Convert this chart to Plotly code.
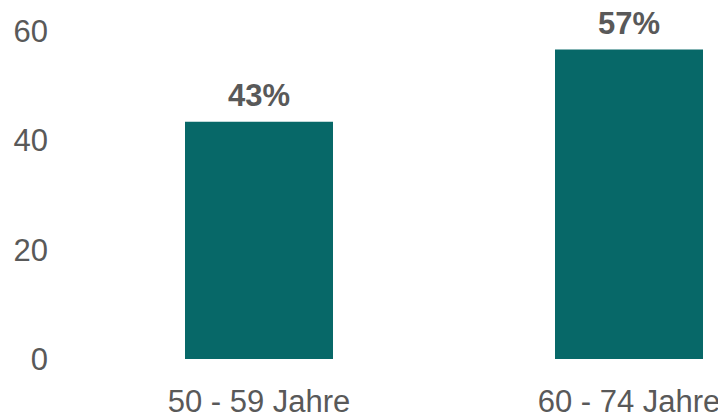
import plotly.graph_objects as go

categories = ["50 - 59 Jahre", "60 - 74 Jahre"]
values = [43.4, 56.6]
labels = ["43%", "57%"]
y_ticks = [0, 20, 40, 60]

bar_color = "#076868"
text_color = "#595959"
font_family = "Liberation Sans, Arial, sans-serif"

fig = go.Figure()
fig.add_trace(go.Bar(
    x=categories,
    y=values,
    width=0.4,
    marker=dict(color=bar_color, line=dict(width=0)),
    hoverinfo="skip",
))

for c, v, t in zip(categories, values, labels):
    fig.add_annotation(
        x=c, y=v, text=f"<b>{t}</b>", showarrow=False,
        yanchor="bottom", yshift=8, borderpad=0,
        font=dict(family=font_family, size=31, color=text_color),
    )

fig.update_layout(
    width=718, height=411,
    margin=dict(l=66, r=0, t=12, b=53),
    paper_bgcolor="white", plot_bgcolor="white",
    showlegend=False,
    font=dict(family=font_family, size=31, color=text_color),
    xaxis=dict(
        range=[-0.5, -0.5 + 652 / 370],
        showgrid=False, zeroline=False, showline=False,
        tickfont=dict(size=31, color=text_color),
        ticklabelstandoff=21,
    ),
    yaxis=dict(
        range=[0, 62.0],
        tickvals=y_ticks,
        showgrid=False, zeroline=False, showline=False,
        tickfont=dict(size=31, color=text_color),
        ticklabelstandoff=25,
    ),
)

fig.write_html("out.html")
